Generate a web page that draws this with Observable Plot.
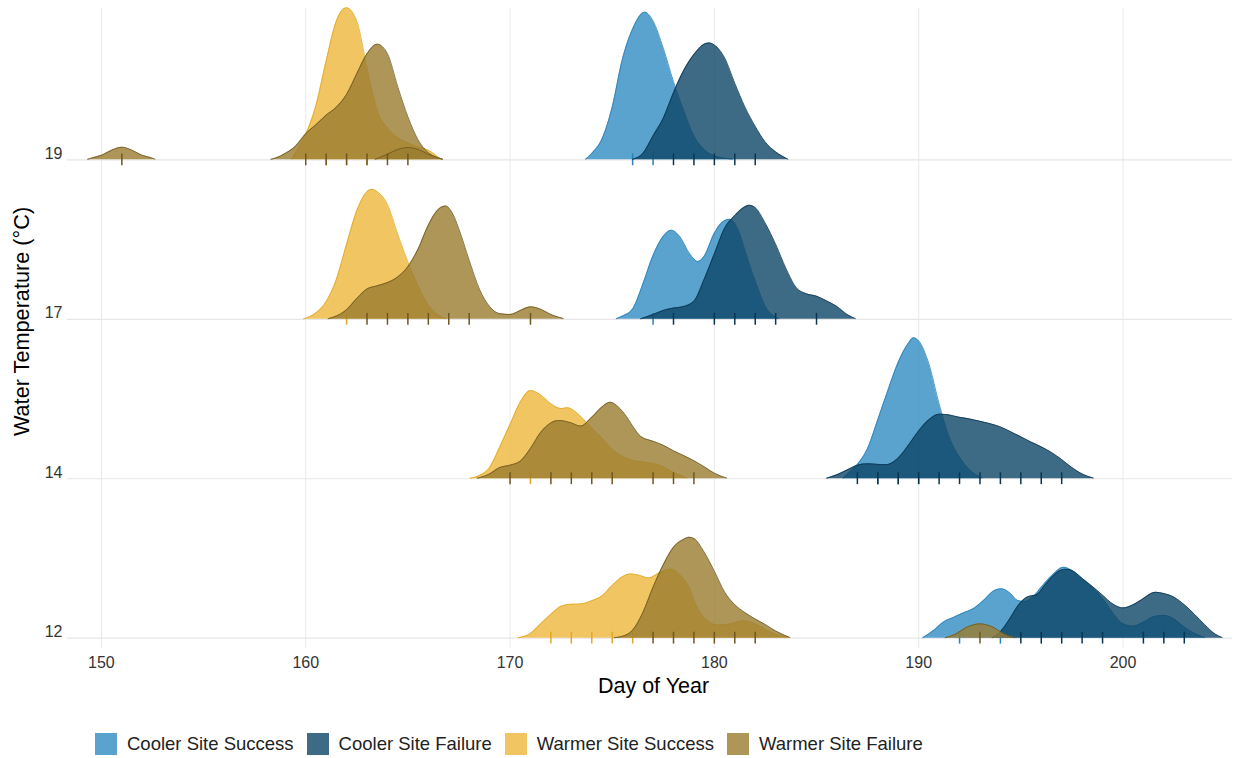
<!DOCTYPE html>
<html>
<head>
<meta charset="utf-8">
<script src="https://cdn.jsdelivr.net/npm/d3@7"></script>
<script src="https://cdn.jsdelivr.net/npm/@observablehq/plot@0.6"></script>
<style>
  body { margin: 0; background: #fff; font-family: "Liberation Sans", Arial, sans-serif; }
  #chart svg { display: block; }
  #legend { display: flex; align-items: center; margin-top: 21px; padding-left: 95px; height: 22px; }
  .item { display: flex; align-items: center; margin-right: 13px; }
  .key { width: 22px; height: 22px; margin-right: 10px; }
  .lab { font-size: 18.5px; color: #222; }
</style>
</head>
<body>
<div id="chart"></div>
<div id="legend"></div>
<script>
// ---- categories ----
const groups = ["Cooler Site Success", "Cooler Site Failure", "Warmer Site Success", "Warmer Site Failure"];
const rowLabels = ["12", "14", "17", "19"];
const xTicks = [150, 160, 170, 180, 190, 200];

// ---- scaled density ridges: [day, height in row units] ----
// row 19
const cs19 = [[173.7,0.003],[174,0.04],[174.5,0.13],[175,0.33],[175.5,0.63],[176,0.82],[176.6,0.926],[177,0.87],[177.5,0.7],[178,0.49],[178.5,0.31],[179,0.15],[179.5,0.065],[180,0.025],[180.5,0.01],[180.9,0.003]];
const cf19 = [[176,0.003],[176.5,0.04],[177,0.15],[177.5,0.26],[178,0.42],[178.5,0.56],[179,0.66],[179.5,0.725],[179.75,0.733],[180,0.72],[180.5,0.64],[181,0.48],[181.5,0.33],[182,0.21],[182.5,0.11],[183,0.05],[183.6,0.004]];
const ws19 = [[159.3,0.004],[159.5,0.045],[160,0.16],[160.5,0.34],[161,0.62],[161.5,0.87],[162,0.953],[162.5,0.87],[163,0.577],[163.5,0.31],[164,0.2],[164.5,0.14],[165,0.105],[165.5,0.08],[166,0.06],[166.5,0.015],[166.6,0.004]];
const wf19a = [[149.33,0.003],[149.5,0.01],[150,0.028],[150.5,0.06],[151,0.079],[151.5,0.06],[152,0.028],[152.5,0.01],[152.62,0.004]];
const wf19b = [[158.3,0.003],[158.5,0.01],[159,0.04],[159.5,0.085],[160,0.163],[160.5,0.22],[161,0.28],[161.5,0.33],[162,0.41],[162.5,0.54],[163,0.665],[163.5,0.725],[164,0.665],[164.5,0.46],[165,0.27],[165.5,0.125],[166,0.045],[166.5,0.012],[166.7,0.004]];
const wf19c = [[163.4,0.003],[164,0.035],[164.5,0.065],[165,0.077],[165.5,0.065],[166,0.035],[166.7,0.003]];
// row 17
const cs17 = [[175.2,0.003],[175.5,0.02],[176,0.065],[176.5,0.22],[177,0.4],[177.5,0.52],[177.9,0.558],[178.3,0.52],[178.8,0.41],[179.2,0.362],[179.5,0.395],[180,0.54],[180.4,0.61],[180.75,0.627],[181.2,0.55],[181.5,0.43],[182,0.24],[182.5,0.08],[183.15,0.004]];
const cf17 = [[176.4,0.003],[177,0.03],[177.5,0.055],[178,0.07],[178.5,0.08],[179,0.113],[179.5,0.25],[180,0.41],[180.5,0.57],[181,0.65],[181.5,0.705],[181.7,0.715],[182,0.7],[182.5,0.6],[183,0.47],[183.5,0.32],[184,0.2],[184.5,0.16],[185,0.145],[185.5,0.115],[186,0.08],[186.5,0.03],[186.9,0.004]];
const ws17 = [[159.9,0.003],[160.5,0.04],[161,0.11],[161.5,0.25],[162,0.47],[162.5,0.68],[163,0.8],[163.25,0.815],[163.5,0.8],[164,0.72],[164.5,0.535],[165,0.36],[165.5,0.21],[166,0.09],[166.5,0.025],[166.9,0.004]];
const wf17 = [[161.1,0.003],[161.5,0.02],[162,0.06],[162.5,0.13],[163,0.19],[163.5,0.21],[164,0.23],[164.5,0.265],[165,0.33],[165.5,0.44],[166,0.59],[166.5,0.69],[166.85,0.71],[167.2,0.66],[167.5,0.565],[168,0.37],[168.5,0.19],[169,0.08],[169.5,0.035],[170,0.03],[170.5,0.055],[171,0.078],[171.5,0.063],[172,0.03],[172.6,0.005]];
// row 14
const cs14 = [[186.3,0.003],[186.6,0.04],[187,0.09],[187.5,0.19],[188,0.37],[188.5,0.555],[189,0.73],[189.5,0.85],[189.75,0.884],[190,0.865],[190.5,0.72],[191,0.47],[191.5,0.26],[192,0.135],[192.5,0.055],[193.1,0.004]];
const cf14 = [[185.5,0.003],[186,0.025],[186.5,0.055],[187,0.085],[187.5,0.094],[188,0.09],[188.4,0.088],[189,0.13],[189.5,0.21],[190,0.3],[190.5,0.37],[191,0.405],[191.5,0.4],[192,0.385],[192.5,0.375],[193,0.36],[193.5,0.345],[194,0.325],[194.5,0.295],[195,0.263],[195.5,0.23],[196,0.2],[196.5,0.165],[197,0.12],[197.5,0.07],[198,0.03],[198.55,0.004]];
const ws14 = [[168.05,0.003],[168.5,0.02],[169,0.07],[169.5,0.2],[170,0.34],[170.5,0.48],[171,0.553],[171.5,0.525],[172,0.47],[172.5,0.44],[172.8,0.445],[173.2,0.42],[173.5,0.385],[174,0.32],[174.5,0.255],[175,0.185],[175.5,0.14],[176,0.115],[176.5,0.105],[177,0.095],[177.5,0.075],[178,0.04],[178.65,0.004]];
const wf14 = [[168.4,0.003],[169,0.03],[169.5,0.07],[170,0.085],[170.5,0.11],[171,0.19],[171.5,0.29],[172,0.35],[172.4,0.365],[173,0.35],[173.45,0.33],[174,0.385],[174.5,0.45],[174.9,0.48],[175.3,0.45],[175.7,0.39],[176,0.33],[176.4,0.265],[177,0.235],[177.5,0.21],[178,0.175],[178.5,0.145],[179,0.113],[179.5,0.075],[180,0.035],[180.6,0.004]];
// row 12
const cs12 = [[190.2,0.003],[190.75,0.05],[191.2,0.1],[191.7,0.13],[192.2,0.16],[192.6,0.18],[193.2,0.24],[193.6,0.29],[194.05,0.31],[194.5,0.28],[194.85,0.236],[195.2,0.23],[195.6,0.26],[196,0.32],[196.5,0.39],[197.1,0.445],[197.5,0.425],[198,0.375],[198.5,0.32],[199,0.25],[199.5,0.16],[200,0.09],[200.5,0.075],[201,0.1],[201.5,0.135],[202,0.143],[202.5,0.12],[203,0.07],[203.5,0.03],[204,0.004]];
const cf12 = [[193.6,0.003],[194,0.04],[194.5,0.13],[194.9,0.21],[195.3,0.257],[195.8,0.275],[196.1,0.32],[196.5,0.38],[196.8,0.415],[197.2,0.432],[197.5,0.425],[198,0.375],[198.5,0.325],[199,0.27],[199.5,0.215],[200,0.19],[200.5,0.21],[200.9,0.24],[201.6,0.288],[202,0.28],[202.5,0.257],[203,0.21],[203.5,0.15],[204,0.085],[204.5,0.027],[204.85,0.004]];
const ws12 = [[170.4,0.003],[171,0.03],[171.5,0.09],[172,0.15],[172.5,0.2],[173,0.213],[173.5,0.215],[174,0.235],[174.5,0.265],[175,0.33],[175.5,0.385],[175.9,0.403],[176.3,0.395],[176.8,0.378],[177.3,0.41],[177.9,0.433],[178.3,0.4],[178.8,0.31],[179.1,0.21],[179.5,0.13],[180.2,0.082],[180.8,0.09],[181.4,0.11],[182,0.09],[182.5,0.055],[183,0.025],[183.6,0.004]];
const wf12a = [[175.1,0.003],[175.5,0.012],[176,0.05],[176.5,0.16],[177,0.32],[177.5,0.46],[178,0.57],[178.5,0.62],[178.75,0.633],[179,0.625],[179.5,0.54],[180,0.42],[180.5,0.29],[181,0.21],[181.5,0.16],[182,0.12],[182.5,0.085],[183,0.045],[183.7,0.004]];
const wf12b = [[191.3,0.003],[191.8,0.025],[192.3,0.065],[192.7,0.085],[193,0.09],[193.3,0.085],[193.7,0.065],[194.2,0.025],[194.7,0.003]];

// ---- observations (rug) ----
const obs19 = { cs: [176, 177], cf: [178, 179, 180, 181, 182], ws: [161, 162, 163], wf: [151, 160, 161, 162, 163, 164, 165] };
const obs17 = { cs: [177], cf: [178, 180, 181, 182, 183, 185], ws: [162], wf: [163, 164, 165, 166, 167, 168, 171] };
const obs14 = { cs: [188, 189, 190], cf: [187, 188, 189, 190, 191, 192, 193, 194, 195, 196, 197], ws: [171], wf: [170, 172, 173, 174, 175, 177, 178, 179] };
const obs12 = { cs: [192, 194], cf: [195, 196, 197, 198, 199, 201, 202, 203], ws: [172, 173, 174, 175, 176], wf: [177, 178, 179, 180, 181, 182, 193] };

// ---- styles ----
const fills = { cs: "#318CC3", cf: "#0C4565", ws: "#ECB63B", wf: "#9A7C2F" };
const lines = { cs: "#2A80B9", cf: "#0A3550", ws: "#E2A825", wf: "#6E5722" };
const FILL_OP = 0.8;

const rows = [
  { idx: 3, ridges: { cs: [cs19], cf: [cf19], ws: [ws19], wf: [wf19a, wf19b, wf19c] }, obs: obs19 },
  { idx: 2, ridges: { cs: [cs17], cf: [cf17], ws: [ws17], wf: [wf17] }, obs: obs17 },
  { idx: 1, ridges: { cs: [cs14], cf: [cf14], ws: [ws14], wf: [wf14] }, obs: obs14 },
  { idx: 0, ridges: { cs: [cs12], cf: [cf12], ws: [ws12], wf: [wf12a, wf12b] }, obs: obs12 }
];
const keys = ["cs", "cf", "ws", "wf"];
const TICK_HALF = 0.037;

const marks = [
  Plot.ruleX(xTicks, { stroke: "#e9e9e9", strokeWidth: 1 }),
  Plot.ruleY([0, 1, 2, 3], { stroke: "#e6e6e6", strokeWidth: 1.2 })
];
for (const r of rows) {
  for (const k of keys) {
    for (const seg of r.ridges[k]) {
      marks.push(Plot.areaY(seg, { x: d => d[0], y1: r.idx, y2: d => r.idx + d[1], fill: fills[k], fillOpacity: FILL_OP, curve: "monotone-x" }));
      marks.push(Plot.lineY(seg, { x: d => d[0], y: d => r.idx + d[1], stroke: lines[k], strokeWidth: 0.8, curve: "monotone-x" }));
    }
    marks.push(Plot.ruleX(r.obs[k], { x: d => d, y1: r.idx - TICK_HALF, y2: r.idx + TICK_HALF, stroke: lines[k], strokeWidth: 1.5 }));
  }
}
marks.push(
  Plot.axisX(xTicks, { tickSize: 0, tickPadding: 8, fontSize: 16, fill: "#333", label: null }),
  Plot.axisY([0, 1, 2, 3], { tickFormat: i => rowLabels[i], tickSize: 0, tickPadding: 5, fontSize: 16, fill: "#333", dy: -6, label: null }),
  Plot.text(["Day of Year"], { frameAnchor: "bottom", dy: 38, dx: 3.5, fontSize: 21.5, fill: "#000", lineAnchor: "middle", textAnchor: "middle" }),
  Plot.text(["Water Temperature (°C)"], { frameAnchor: "left", rotate: -90, dx: -45, dy: -7, fontSize: 21.7, fill: "#000", lineAnchor: "middle", textAnchor: "middle" })
);

const H = 712;
const chart = Plot.plot({
  width: 1233,
  height: H,
  marginLeft: 67,
  marginRight: 1,
  marginTop: 8,
  marginBottom: H - 648,
  x: { domain: [148.34, 205.36] },
  y: { domain: [-0.0646, 3.949] },
  style: { fontFamily: "'Liberation Sans', Arial, sans-serif", background: "#fff", overflow: "visible" },
  marks
});
document.getElementById("chart").appendChild(chart);

const legend = document.getElementById("legend");
keys.forEach((k, i) => {
  const item = document.createElement("div");
  item.className = "item";
  const sw = document.createElement("div");
  sw.className = "key";
  sw.style.background = fills[k];
  sw.style.opacity = FILL_OP;
  const lab = document.createElement("span");
  lab.className = "lab";
  lab.textContent = groups[i];
  item.appendChild(sw);
  item.appendChild(lab);
  legend.appendChild(item);
});
</script>
</body>
</html>
